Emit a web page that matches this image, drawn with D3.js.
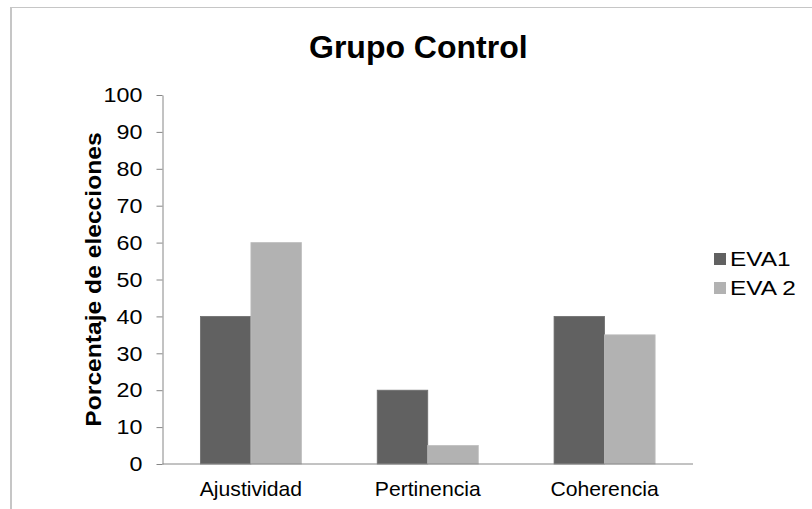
<!DOCTYPE html>
<html><head><meta charset="utf-8">
<script src="https://cdn.jsdelivr.net/npm/d3@7"></script>
<style>body{margin:0;background:#fff}svg{display:block}text{font-family:"Liberation Sans",Arial,sans-serif}</style>
</head><body>
<svg id="c" width="812" height="509"></svg>
<script>
const categories = ["Ajustividad", "Pertinencia", "Coherencia"];
const seriesNames = ["EVA1", "EVA 2"];
const eva1 = [40, 20, 40];
const eva2 = [60, 5, 35];
const yTicks = [0, 10, 20, 30, 40, 50, 60, 70, 80, 90, 100];
const colors = ["#616161", "#b2b2b2"];

(function () {
const FONT = '"Liberation Sans",Arial,sans-serif';
const svg = d3.select("#c");
// outer chart border
svg.append("line").attr("x1", 11).attr("x2", 812).attr("y1", 7.5).attr("y2", 7.5).attr("stroke", "#c6c6c6").attr("stroke-width", 1);
svg.append("line").attr("x1", 11).attr("x2", 11).attr("y1", 7).attr("y2", 509).attr("stroke", "#c6c6c6").attr("stroke-width", 2);

const pLeft = 162.5, pRight = 693, pTop = 95, pBottom = 464;
const x0 = d3.scaleBand().domain(categories).range([pLeft, pRight]).paddingInner(0).paddingOuter(0);
const x1 = d3.scaleBand().domain(seriesNames).range([0, x0.bandwidth()]).paddingInner(0).paddingOuter(0.75);
const y = d3.scaleLinear().domain([0, 100]).range([pBottom, pTop]);

const data = categories.map((c, i) => ({cat: c, vals: [eva1[i], eva2[i]]}));

const g = svg.append("g");
g.selectAll("g.grp").data(data).join("g").attr("class", "grp")
  .attr("transform", d => `translate(${x0(d.cat)},0)`)
  .selectAll("rect").data(d => d.vals.map((v, j) => ({s: seriesNames[j], v, j})))
  .join("rect")
  .attr("x", d => x1(d.s)).attr("width", x1.bandwidth())
  .attr("y", d => y(d.v)).attr("height", d => y(0) - y(d.v))
  .attr("fill", d => colors[d.j])
  .attr("stroke", d => d.j === 0 ? "#6e6e6e" : "#bdbdbd").attr("stroke-width", 0.8);

function stretch(sel, sx) {
  sel.each(function () {
    const t = d3.select(this);
    const x = +t.attr("x") || 0;
    t.attr("x", 0).attr("transform", `translate(${x},0) scale(${sx},1)`);
  });
}

// y axis
const yAxis = d3.axisLeft(y).tickValues(yTicks).tickSize(6).tickPadding(14).tickSizeOuter(0);
const ya = svg.append("g").attr("transform", `translate(${pLeft},0)`).call(yAxis);
ya.select(".domain").attr("stroke", "#868686");
ya.selectAll(".tick line").attr("stroke", "#868686");
ya.selectAll(".tick text").attr("font-size", 21).attr("fill", "#000").attr("font-family", FONT);
stretch(ya.selectAll(".tick text"), 1.11);

// x axis
const xAxis = d3.axisBottom(x0).tickSize(0).tickPadding(18);
const xa = svg.append("g").attr("transform", `translate(0,${pBottom})`).call(xAxis);
xa.select(".domain").attr("stroke", "#868686").attr("d", `M${pLeft},0H${pRight}`);
xa.selectAll(".tick text").attr("font-size", 20).attr("fill", "#000").attr("font-family", FONT);
stretch(xa.selectAll(".tick text"), 1.06);

// title
svg.append("text").attr("transform", "translate(418.3,58)").attr("text-anchor", "middle")
  .attr("font-size", 32).attr("font-weight", "bold").text("Grupo Control");

// y title
svg.append("text").attr("transform", `translate(101,${(pTop + pBottom) / 2}) rotate(-90) scale(1.12,1)`)
  .attr("text-anchor", "middle").attr("font-size", 22).attr("font-weight", "bold")
  .text("Porcentaje de elecciones");

// legend
const lg = svg.append("g");
const li = lg.selectAll("g").data(seriesNames).join("g")
  .attr("transform", (d, i) => `translate(714,${259 + i * 29})`);
li.append("rect").attr("x", 0).attr("y", -6).attr("width", 12).attr("height", 12).attr("fill", (d, i) => colors[i]);
li.append("text").attr("transform", "translate(16,7) scale(1.25,1)").attr("font-size", 19.5).text(d => d);
})();
</script>
</body></html>
